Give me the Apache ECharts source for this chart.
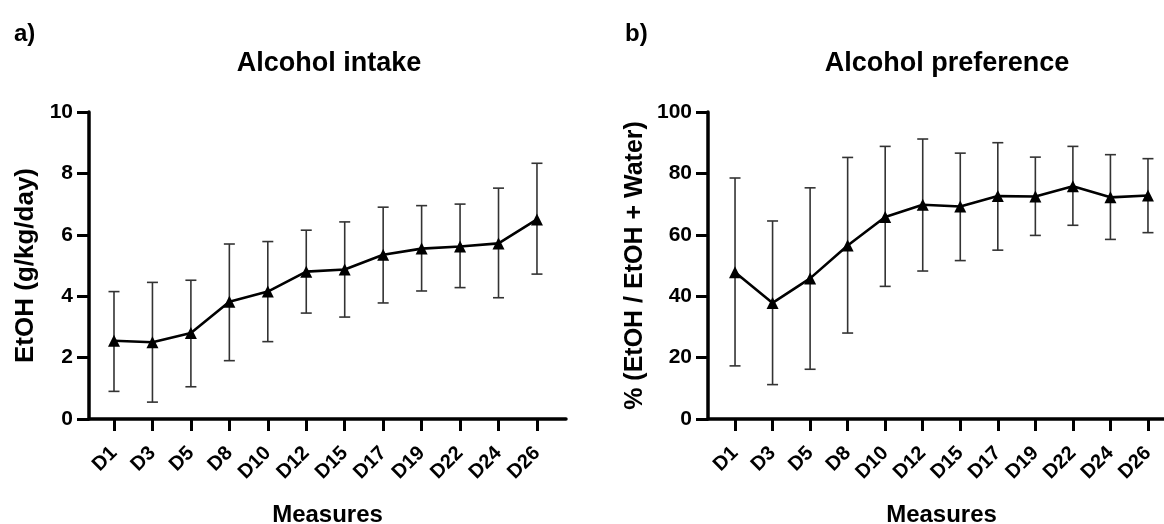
<!DOCTYPE html>
<html>
<head>
<meta charset="utf-8">
<script src="https://cdn.jsdelivr.net/npm/echarts@6/dist/echarts.min.js"></script>
<style>
html,body{margin:0;padding:0;background:#fff;}
#c{width:1164px;height:524px;}
</style>
</head>
<body>
<div id="c"></div>
<script>
const categories = ['D1','D3','D5','D8','D10','D12','D15','D17','D19','D22','D24','D26'];

const intakeMean  = [2.55, 2.5, 2.8, 3.82, 4.15, 4.8, 4.87, 5.35, 5.55, 5.62, 5.72, 6.5];
const intakeUpper = [4.15, 4.45, 4.52, 5.7, 5.78, 6.15, 6.42, 6.9, 6.95, 7.0, 7.52, 8.33];
const intakeLower = [0.9, 0.55, 1.05, 1.9, 2.52, 3.45, 3.32, 3.78, 4.17, 4.28, 3.95, 4.72];

const prefMean  = [47.8, 37.8, 45.8, 56.5, 65.8, 69.8, 69.2, 72.6, 72.5, 75.8, 72.2, 72.8];
const prefUpper = [78.5, 64.5, 75.3, 85.2, 88.8, 91.2, 86.6, 90.0, 85.3, 88.8, 86.1, 84.8];
const prefLower = [17.3, 11.2, 16.2, 28.0, 43.2, 48.2, 51.6, 55.0, 59.8, 63.1, 58.5, 60.7];

const intakeTicks = [0, 2, 4, 6, 8, 10];
const prefTicks = [0, 20, 40, 60, 80, 100];

const FONT = '"Liberation Sans", Arial, Helvetica, sans-serif';
const idx = categories.map((c, i) => i);

function errData(up, lo) { return idx.map(i => [i, lo[i], up[i]]); }
function lineData(m) { return idx.map(i => [i, m[i]]); }

function errRender(params, api) {
  const x = api.value(0);
  const lo = api.coord([x, api.value(1)]);
  const hi = api.coord([x, api.value(2)]);
  const w = 5.5;
  const st = { stroke: '#333', lineWidth: 1.6 };
  return {
    type: 'group',
    children: [
      { type: 'line', shape: { x1: hi[0], y1: hi[1], x2: lo[0], y2: lo[1] }, style: st },
      { type: 'line', shape: { x1: hi[0] - w, y1: hi[1], x2: hi[0] + w, y2: hi[1] }, style: st },
      { type: 'line', shape: { x1: lo[0] - w, y1: lo[1], x2: lo[0] + w, y2: lo[1] }, style: st }
    ]
  };
}

function xAxisCfg(gridIndex, min, max) {
  return {
    type: 'value', gridIndex, min, max,
    axisLine: { show: true, onZero: false, lineStyle: { color: '#000', width: 3.5 } },
    axisTick: { show: true, customValues: idx, length: 12, lineStyle: { color: '#000', width: 3 } },
    axisLabel: {
      show: true, customValues: idx, rotate: 45, margin: 31,
      formatter: v => categories[Math.round(v)],
      color: '#000', fontFamily: FONT, fontWeight: 'bold', fontSize: 20
    },
    splitLine: { show: false },
    name: 'Measures', nameLocation: 'middle', nameGap: 84,
    nameTextStyle: { color: '#000', fontFamily: FONT, fontWeight: 'bold', fontSize: 24 }
  };
}

function yAxisCfg(gridIndex, ticks, name, nameGap, nameSize) {
  return {
    type: 'value', gridIndex,
    min: ticks[0], max: ticks[ticks.length - 1], interval: ticks[1] - ticks[0],
    axisLine: { show: true, onZero: false, lineStyle: { color: '#000', width: 3.5 } },
    axisTick: { show: true, length: 12, lineStyle: { color: '#000', width: 3 } },
    axisLabel: { color: '#000', fontFamily: FONT, fontWeight: 'bold', fontSize: 21, margin: 16 },
    splitLine: { show: false },
    name, nameLocation: 'middle', nameGap,
    nameTextStyle: { color: '#000', fontFamily: FONT, fontWeight: 'bold', fontSize: nameSize }
  };
}

const chart = echarts.init(document.getElementById('c'), null, { renderer: 'canvas' });
chart.setOption({
  backgroundColor: '#fff',
  animation: false,
  title: [
    { text: 'a)', left: 9, top: 17, textStyle: { fontFamily: FONT, fontWeight: 'bold', fontSize: 24, color: '#000' } },
    { text: 'b)', left: 620, top: 17, textStyle: { fontFamily: FONT, fontWeight: 'bold', fontSize: 24, color: '#000' } },
    { text: 'Alcohol intake', left: 324, textAlign: 'center', top: 45, textStyle: { fontFamily: FONT, fontWeight: 'bold', fontSize: 27, color: '#000' } },
    { text: 'Alcohol preference', left: 942, textAlign: 'center', top: 45, textStyle: { fontFamily: FONT, fontWeight: 'bold', fontSize: 27, color: '#000' } }
  ],
  grid: [
    { left: 89, top: 112, width: 477, height: 307, containLabel: false, outerBoundsMode: 'none' },
    { left: 708, top: 112, width: 467, height: 307, containLabel: false, outerBoundsMode: 'none' }
  ],
  xAxis: [ xAxisCfg(0, -0.65, 11.755), xAxisCfg(1, -0.72, 11.72) ],
  yAxis: [
    yAxisCfg(0, intakeTicks, 'EtOH (g/kg/day)', 50, 26),
    yAxisCfg(1, prefTicks, '% (EtOH / EtOH + Water)', 60, 25)
  ],
  series: [
    { type: 'custom', xAxisIndex: 0, yAxisIndex: 0, renderItem: errRender, data: errData(intakeUpper, intakeLower), z: 1 },
    { type: 'line', xAxisIndex: 0, yAxisIndex: 0, data: lineData(intakeMean), symbol: 'triangle', symbolSize: 12,
      lineStyle: { color: '#000', width: 2.6 }, itemStyle: { color: '#000' }, z: 2 },
    { type: 'custom', xAxisIndex: 1, yAxisIndex: 1, renderItem: errRender, data: errData(prefUpper, prefLower), z: 1 },
    { type: 'line', xAxisIndex: 1, yAxisIndex: 1, data: lineData(prefMean), symbol: 'triangle', symbolSize: 12,
      lineStyle: { color: '#000', width: 2.6 }, itemStyle: { color: '#000' }, z: 2 }
  ]
});
</script>
</body>
</html>
